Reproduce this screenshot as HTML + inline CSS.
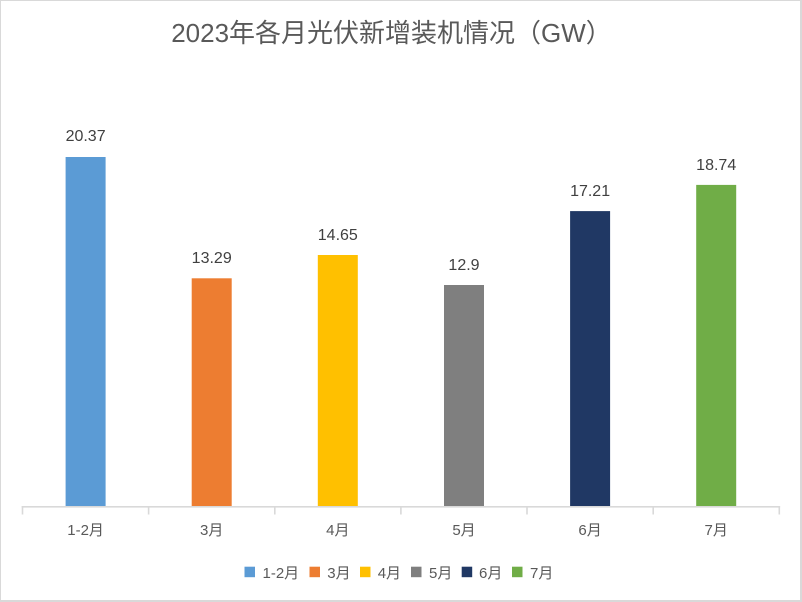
<!DOCTYPE html>
<html>
<head>
<meta charset="utf-8">
<style>
html,body{margin:0;padding:0;background:#fff;}
body{width:802px;height:602px;overflow:hidden;}
svg{display:block;}
text{font-family:"Liberation Sans","Noto Sans CJK SC","WenQuanYi Zen Hei",sans-serif;}
</style>
</head>
<body>
<svg width="802" height="602" viewBox="0 0 802 602" xmlns="http://www.w3.org/2000/svg">
  <rect x="0" y="0" width="802" height="602" fill="#fff"/>
  <!-- frame -->
  <rect x="0" y="0" width="802" height="1" fill="#D9D9D9"/>
  <rect x="0" y="0" width="1" height="602" fill="#D9D9D9"/>
  <rect x="800" y="0" width="2" height="602" fill="#D9D9D9"/>
  <rect x="0" y="600" width="802" height="2" fill="#D9D9D9"/>

  <!-- title -->
  <text x="391.5" y="42" font-size="26" fill="#595959" text-anchor="middle">2023年各月光伏新增装机情况（GW）</text>

  <!-- bars -->
  <rect x="65.6" y="157" width="40" height="349" fill="#5B9BD5"/>
  <rect x="191.7" y="278.3" width="40" height="227.7" fill="#ED7D31"/>
  <rect x="317.8" y="255" width="40" height="251" fill="#FFC000"/>
  <rect x="444" y="285" width="40" height="221" fill="#7F7F7F"/>
  <rect x="570.1" y="211.1" width="40" height="294.9" fill="#203864"/>
  <rect x="696.2" y="184.9" width="40" height="321.1" fill="#70AD47"/>

  <!-- data labels -->
  <g font-size="16" fill="#404040" text-anchor="middle">
    <text x="85.6" y="141">20.37</text>
    <text x="211.7" y="263">13.29</text>
    <text x="337.8" y="240">14.65</text>
    <text x="464" y="270">12.9</text>
    <text x="590.1" y="196">17.21</text>
    <text x="716.2" y="170">18.74</text>
  </g>

  <!-- axis -->
  <g stroke="#D9D9D9" stroke-width="1.6" fill="none">
    <line x1="21.7" y1="506.8" x2="780.1" y2="506.8"/>
    <line x1="22.5" y1="506" x2="22.5" y2="514.5"/>
    <line x1="148.6" y1="506" x2="148.6" y2="514.5"/>
    <line x1="274.8" y1="506" x2="274.8" y2="514.5"/>
    <line x1="400.9" y1="506" x2="400.9" y2="514.5"/>
    <line x1="527" y1="506" x2="527" y2="514.5"/>
    <line x1="653.2" y1="506" x2="653.2" y2="514.5"/>
    <line x1="779.3" y1="506" x2="779.3" y2="514.5"/>
  </g>

  <!-- category labels -->
  <g font-size="15" fill="#595959" text-anchor="middle">
    <text x="85.6" y="535">1-2月</text>
    <text x="211.7" y="535">3月</text>
    <text x="337.8" y="535">4月</text>
    <text x="464" y="535">5月</text>
    <text x="590.1" y="535">6月</text>
    <text x="716.2" y="535">7月</text>
  </g>

  <!-- legend -->
  <g font-size="15" fill="#595959">
    <rect x="244.5" y="566.7" width="10.5" height="10.5" fill="#5B9BD5"/>
    <text x="262.5" y="578">1-2月</text>
    <rect x="309.5" y="566.7" width="10.5" height="10.5" fill="#ED7D31"/>
    <text x="327.3" y="578">3月</text>
    <rect x="360" y="566.7" width="10.5" height="10.5" fill="#FFC000"/>
    <text x="377.7" y="578">4月</text>
    <rect x="411" y="566.7" width="10.5" height="10.5" fill="#7F7F7F"/>
    <text x="429" y="578">5月</text>
    <rect x="461.7" y="566.7" width="10.5" height="10.5" fill="#203864"/>
    <text x="479" y="578">6月</text>
    <rect x="512" y="566.7" width="10.5" height="10.5" fill="#70AD47"/>
    <text x="530" y="578">7月</text>
  </g>
</svg>
</body>
</html>
